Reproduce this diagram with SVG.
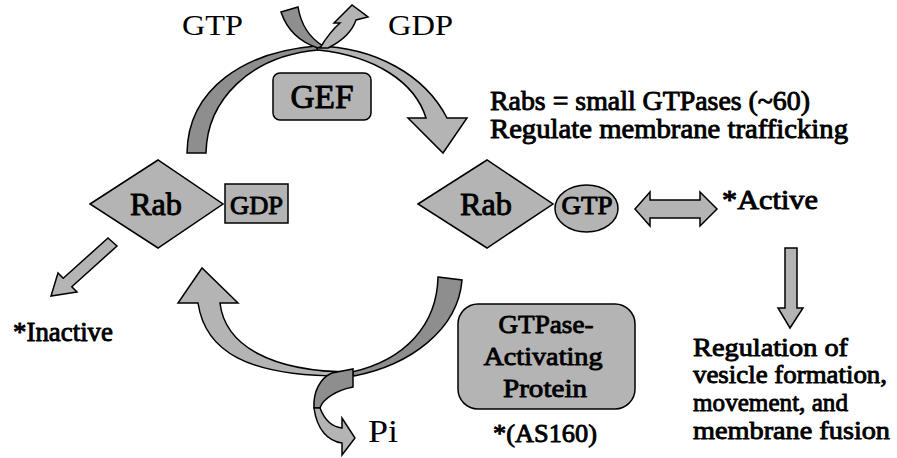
<svg xmlns="http://www.w3.org/2000/svg" width="897" height="458" viewBox="0 0 897 458">
<style>
  .lt { fill: #b4b4b4; stroke: #000; stroke-width: 1.5; stroke-linejoin: miter; }
  .dk { fill: #8e8e8e; stroke: #000; stroke-width: 1.5; }
  .t { font-family: "Liberation Serif", "Times New Roman", serif; fill: #000; }
  .b { stroke: #000; stroke-width: 0.9; stroke-linejoin: round; }
  .c { text-anchor: middle; }
</style>
<rect width="897" height="458" fill="#fff"/>
<g id="connectors">
  <!-- top GEF arc -->
  <path class="dk" d="M187,153 C188,88 245,52 316,46 L318,50 C250,56 207,100 206,153 Z"/>
  <path class="lt" d="M316,46 C375,47 425,75 447,118 L467,118 L443,153 L408,118 L426,118 C415,82 375,56 318,50 Z"/>
  <!-- GTP in -->
  <path class="dk" d="M281,12 L298,7 C301,25 310,38 323,46 L318,48 C300,42 287,30 281,12 Z"/>
  <!-- GDP out -->
  <path class="lt" d="M320,48 C326,38 332,30 340,23 L334,23 L352,5 L368,17 L356,20 C352,32 340,42 328,48 Z"/>
  <!-- bottom GAP arc -->
  <path class="dk" d="M438,277 L462,280 C458,330 410,365 354,376 L352,372 C405,360 437,325 438,277 Z"/>
  <path class="lt" d="M352,376 C245,378 205,350 198,303 L178,303 L202,268 L238,303 L220,303 C225,345 270,372 352,372 Z"/>
  <!-- Pi out -->
  <path class="dk" d="M332,373 L353,369 L353,387 C338,390 323,398 320,408 L314,408 C313,392 320,378 332,373 Z"/>
  <path class="lt" d="M314,408 L320,408 C325,421 333,427 342,428 L342,418 L355,438 L342,455 L342,443 C328,441 317,430 314,408 Z"/>
  <!-- inactive arrow -->
  <path class="lt" d="M108,238 L117,246 L71.8,286.7 L77,292 L51,296 L58,273 L63.2,278.3 Z"/>
  <!-- double arrow -->
  <path class="lt" d="M635,209 L650,192 L650,200 L700,200 L700,192 L717,209 L700,226 L700,218 L650,218 L650,226 Z"/>
  <!-- down arrow -->
  <path class="lt" d="M785,248 L797,248 L797,308 L803,308 L790,328 L778,308 L785,308 Z"/>
</g>
<g id="gef">
  <rect class="lt" x="273" y="73" width="98" height="47" rx="7"/>
  <text class="t b c" x="322" y="108" font-size="33" textLength="63" lengthAdjust="spacingAndGlyphs">GEF</text>
</g>
<g id="rab-gdp">
  <polygon class="lt" points="90,204 158,160 223,204 158,248"/>
  <text class="t b c" x="156" y="215" font-size="31" textLength="52" lengthAdjust="spacingAndGlyphs">Rab</text>
</g>
<g id="gdp-box">
  <rect class="lt" x="225" y="184" width="63" height="39"/>
  <text class="t b c" x="256.5" y="214" font-size="25" textLength="53" lengthAdjust="spacingAndGlyphs">GDP</text>
</g>
<g id="rab-gtp">
  <polygon class="lt" points="418,204 487,160 553,204 487,248"/>
  <text class="t b c" x="486" y="215" font-size="31" textLength="52" lengthAdjust="spacingAndGlyphs">Rab</text>
</g>
<g id="gtp-ellipse">
  <ellipse class="lt" cx="586.5" cy="208.5" rx="31.5" ry="23.5"/>
  <text class="t b c" x="587" y="214" font-size="25" textLength="51" lengthAdjust="spacingAndGlyphs">GTP</text>
</g>
<g id="gap">
  <rect class="lt" x="458" y="304" width="177" height="105" rx="20"/>
  <text class="t b c" x="546" y="333" font-size="26" textLength="95" lengthAdjust="spacingAndGlyphs">GTPase-</text>
  <text class="t b c" x="543" y="365" font-size="26" textLength="119" lengthAdjust="spacingAndGlyphs">Activating</text>
  <text class="t b c" x="545" y="397" font-size="26" textLength="84" lengthAdjust="spacingAndGlyphs">Protein</text>
</g>
<g id="labels">
  <text class="t" x="182" y="35" font-size="30" textLength="61" lengthAdjust="spacingAndGlyphs">GTP</text>
  <text class="t" x="388" y="35" font-size="30" textLength="65" lengthAdjust="spacingAndGlyphs">GDP</text>
  <text class="t b" x="490" y="110" font-size="27" textLength="320" lengthAdjust="spacingAndGlyphs">Rabs = small GTPases (~60)</text>
  <text class="t b" x="490" y="138" font-size="27" textLength="358" lengthAdjust="spacingAndGlyphs">Regulate membrane trafficking</text>
  <text class="t b" x="722" y="209" font-size="27" textLength="96" lengthAdjust="spacingAndGlyphs">*Active</text>
  <text class="t b" x="13" y="341" font-size="27" textLength="100" lengthAdjust="spacingAndGlyphs">*Inactive</text>
  <text class="t" x="368" y="442" font-size="31" textLength="30" lengthAdjust="spacingAndGlyphs">Pi</text>
  <text class="t b" x="493" y="442" font-size="26" textLength="104" lengthAdjust="spacingAndGlyphs">*(AS160)</text>
  <text class="t b" x="693" y="356" font-size="26" textLength="155" lengthAdjust="spacingAndGlyphs">Regulation of</text>
  <text class="t b" x="693" y="383" font-size="26" textLength="194" lengthAdjust="spacingAndGlyphs">vesicle formation,</text>
  <text class="t b" x="693" y="411" font-size="26" textLength="155" lengthAdjust="spacingAndGlyphs">movement, and</text>
  <text class="t b" x="693" y="439" font-size="26" textLength="197" lengthAdjust="spacingAndGlyphs">membrane fusion</text>
</g>
</svg>
